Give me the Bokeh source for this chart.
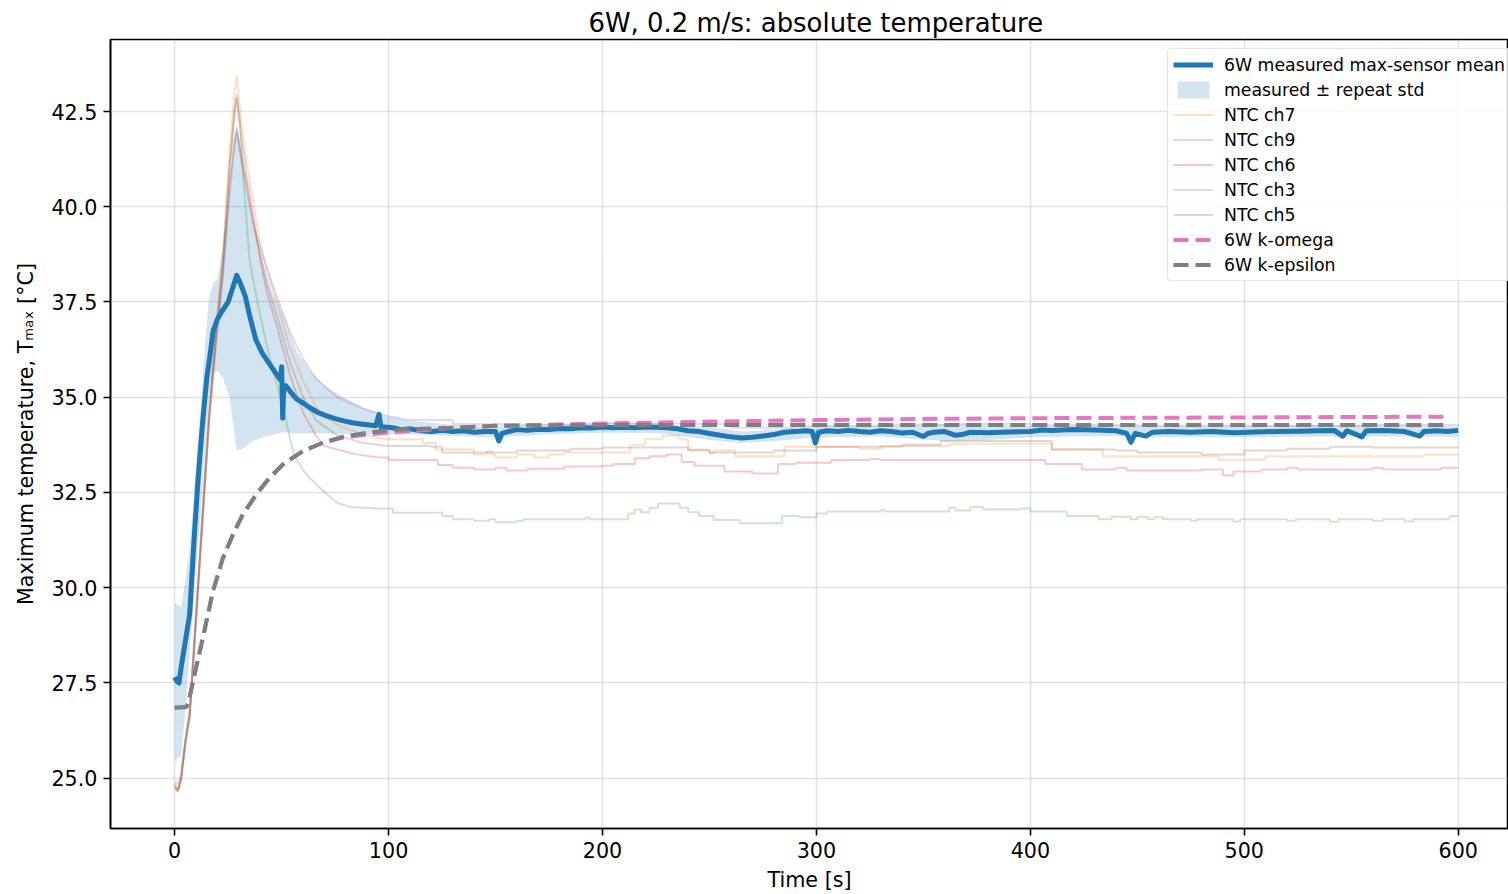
from bokeh.plotting import figure
from bokeh.models import Legend, LegendItem, FixedTicker, PrintfTickFormatter, Range1d
from bokeh.embed import file_html
from bokeh.resources import INLINE

# ---------------- data ----------------
title_text = "6W, 0.2 m/s: absolute temperature"
x_ticks = [0, 100, 200, 300, 400, 500, 600]
y_ticks = [25.0, 27.5, 30.0, 32.5, 35.0, 37.5, 40.0, 42.5]

# measured max-sensor mean
t_mean = [0, 1, 2, 3, 5, 7, 9, 11, 13, 15, 16.5, 18, 20, 22, 25, 27, 29, 31, 33, 35, 38, 41, 44, 47,
          49.5, 50, 50.5, 51, 52, 54, 57, 60, 63, 67, 71, 75, 79, 83, 87, 91, 94, 95.5, 96.5, 98,
          102, 106, 110, 115, 120, 125, 130, 135, 140, 145, 150, 151.5, 153, 156, 160, 165, 170,
          175, 180, 185, 190, 195, 200, 205, 210, 215, 220, 225, 230, 235, 240, 245, 250, 255,
          260, 265, 270, 275, 280, 285, 290, 295, 298, 299.5, 301, 305, 310, 315, 320, 325, 330,
          335, 340, 345, 350, 352, 355, 360, 365, 368, 372, 380, 390, 400, 405, 410, 420, 430,
          440, 445, 447, 449, 454, 457, 465, 475, 485, 495, 505, 515, 525, 535, 542, 546, 548,
          555, 557, 565, 575, 582, 584, 590, 595, 600]
T_mean = [27.65, 27.55, 27.5, 27.9, 28.6, 29.3, 31.2, 32.9, 34.3, 35.5, 36.1, 36.75, 37.05, 37.25,
          37.5, 37.85, 38.2, 37.95, 37.65, 37.15, 36.5, 36.15, 35.9, 35.65, 35.45, 35.8, 34.45,
          35.3, 35.3, 35.15, 34.95, 34.85, 34.73, 34.6, 34.51, 34.44, 34.38, 34.33, 34.3, 34.27,
          34.25, 34.55, 34.2, 34.22, 34.2, 34.15, 34.17, 34.12, 34.1, 34.13, 34.1, 34.12, 34.08,
          34.1, 34.1, 33.85, 34.05, 34.1, 34.15, 34.13, 34.16, 34.15, 34.18, 34.17, 34.2, 34.19,
          34.22, 34.2, 34.21, 34.2, 34.22, 34.21, 34.2, 34.17, 34.12, 34.1, 34.05, 34.0, 33.96,
          33.93, 33.95, 33.98, 34.02, 34.08, 34.1, 34.12, 34.1, 33.8, 34.08, 34.12, 34.1, 34.13,
          34.1, 34.08, 34.12, 34.1, 34.06, 34.08, 33.97, 34.05, 34.08, 34.1, 34.0, 34.02, 34.08,
          34.07, 34.09, 34.1, 34.14, 34.13, 34.15, 34.14, 34.12, 34.05, 33.82, 34.05, 33.98,
          34.08, 34.1, 34.08, 34.1, 34.07, 34.09, 34.1, 34.11, 34.12, 34.13, 33.98, 34.12, 33.96,
          34.12, 34.13, 34.1, 33.98, 34.1, 34.12, 34.1, 34.13]

# measured +/- repeat std band
t_band = [0, 3, 5, 7, 10, 12, 14, 16, 18, 20, 22.6, 25.7, 28, 29, 31, 33.5, 36.6, 41, 46, 50.7,
          57, 63, 71, 79, 88, 99, 110, 130, 150, 175, 200, 225, 250, 265, 280, 300, 330, 360,
          380, 400, 430, 460, 500, 540, 570, 600]
band_upper = [29.6, 29.5, 30.2, 31.0, 33.2, 34.6, 36.2, 37.6, 38.0, 38.1, 39.0, 40.5, 41.8, 42.1,
              41.6, 40.5, 39.6, 38.6, 37.7, 37.2, 36.2, 35.7, 35.25, 35.0, 34.73, 34.5, 34.38,
              34.28, 34.25, 34.3, 34.33, 34.32, 34.22, 34.1, 34.15, 34.25, 34.25, 34.3, 34.28,
              34.25, 34.27, 34.25, 34.25, 34.27, 34.28, 34.24]
band_lower = [25.45, 25.6, 26.8, 28.3, 30.5, 31.8, 33.5, 35.0, 35.6, 35.7, 35.5, 35.0, 34.0, 33.6,
              33.62, 33.72, 33.85, 33.95, 34.02, 34.08, 34.05, 34.05, 34.05, 34.03, 34.03, 34.02,
              34.03, 33.98, 33.95, 34.03, 34.07, 34.06, 33.88, 33.8, 33.85, 33.95, 33.97, 33.85,
              33.88, 33.95, 33.98, 33.95, 33.95, 33.97, 33.97, 33.96]

# NTC channels: transient part (line) and quantised steady part (steps)
t_ch7 = [0, 1.5, 3, 5, 7, 10, 13, 16, 19.5, 22.6, 25.7, 28, 29, 31, 33.5, 36.6, 40, 42.9, 47.6,
         53.8, 60, 66.3, 70, 75.6, 82, 88, 94, 99]
T_ch7 = [24.75, 24.65, 25.0, 26.0, 26.8, 29.4, 32.0, 34.7, 37.0, 38.8, 41.5, 43.0, 43.45, 42.3,
         41.2, 40.16, 39.0, 38.4, 37.53, 36.3, 35.43, 34.73, 34.5, 34.29, 34.15, 34.03, 33.95, 33.9]
ts_ch7 = [99, 116, 122, 140, 146, 148, 150, 160, 168, 175, 182, 213, 220, 228, 236, 240, 250, 252,
          262, 285, 320, 330, 362, 410, 434, 488, 510, 584, 600]
Ts_ch7 = [33.9, 33.8, 33.63, 33.5, 33.58, 33.5, 33.42, 33.5, 33.42, 33.5, 33.55, 33.75, 33.9,
          33.99, 33.9, 33.6, 33.52, 33.6, 33.45, 33.7, 33.65, 33.72, 33.78, 33.63, 33.45, 33.36,
          33.45, 33.5, 33.5]

t_ch9 = [0, 1.5, 3, 5, 7, 10, 13, 16, 19.5, 22.6, 25.7, 28, 29, 30.5, 32, 35, 39, 42.9, 46, 49.1,
         52, 54, 56, 60, 63, 69.4, 74, 76, 82, 95]
T_ch9 = [24.8, 24.7, 25.0, 26.0, 26.7, 29.3, 31.9, 34.5, 36.8, 38.6, 41.0, 42.5, 42.95, 42.2,
         40.8, 38.6, 37.4, 36.4, 35.7, 35.08, 34.4, 33.9, 33.45, 33.1, 32.89, 32.54, 32.32, 32.23,
         32.12, 32.08]
ts_ch9 = [95, 102, 125, 130, 140, 147, 150, 160, 163, 175, 192, 194, 212, 215, 218, 222, 226, 236,
          240, 245, 252, 264, 284, 292, 300, 305, 330, 332, 358, 362, 365, 372, 378, 395, 400, 417,
          432, 438, 447, 450, 455, 458, 462, 475, 478, 495, 498, 520, 524, 540, 544, 560, 565, 575,
          579, 596, 600]
Ts_ch9 = [32.08, 31.97, 31.88, 31.8, 31.76, 31.8, 31.72, 31.76, 31.8, 31.8, 31.84, 31.8, 31.95,
          32.05, 31.98, 32.1, 32.21, 32.1, 31.98, 31.88, 31.78, 31.69, 31.88, 31.85, 31.95, 32.0,
          32.04, 32.0, 32.0, 32.1, 32.03, 32.12, 32.05, 32.08, 32.0, 31.88, 31.8, 31.86, 31.8,
          31.86, 31.8, 31.85, 31.8, 31.76, 31.8, 31.74, 31.8, 31.76, 31.8, 31.73, 31.8, 31.76,
          31.8, 31.74, 31.8, 31.88, 31.88]

t_ch6 = [0, 1.5, 3, 5, 7, 10, 13, 16, 19.5, 22.6, 25.7, 28, 29, 31, 33.5, 36.6, 40, 42.9, 47.6,
         53.8, 60, 66, 70, 76, 85, 95]
T_ch6 = [24.75, 24.65, 24.95, 25.9, 26.6, 29.2, 31.8, 34.4, 36.7, 38.5, 41.1, 42.5, 42.85, 41.9,
         40.8, 39.8, 38.6, 37.8, 36.9, 35.6, 34.6, 34.0, 33.72, 33.63, 33.5, 33.42]
ts_ch6 = [95, 100, 123, 130, 140, 150, 155, 165, 182, 200, 205, 215, 222, 230, 237, 243, 257, 270,
          282, 290, 307, 325, 330, 358, 407, 424, 440, 445, 480, 490, 495, 508, 520, 525, 560, 565,
          592, 600]
Ts_ch6 = [33.42, 33.35, 33.22, 33.15, 33.1, 33.15, 33.08, 33.12, 33.18, 33.2, 33.25, 33.4, 33.45,
          33.5, 33.3, 33.2, 33.05, 33.0, 33.25, 33.28, 33.35, 33.38, 33.35, 33.35, 33.25, 33.1,
          33.15, 33.08, 33.1, 32.95, 33.05, 33.1, 33.15, 33.1, 33.15, 33.1, 33.15, 33.15]

t_ch3 = [0, 1.5, 3, 5, 7, 10, 13, 16, 19.5, 22.6, 25.7, 28, 29, 31, 33, 37, 43, 48, 54, 60, 66,
         76, 88, 100, 110]
T_ch3 = [24.9, 24.85, 25.1, 26.0, 26.7, 29.2, 31.8, 34.3, 36.5, 38.2, 40.3, 41.7, 42.1, 41.3,
         40.8, 39.5, 38.4, 37.6, 36.7, 36.0, 35.5, 35.0, 34.7, 34.5, 34.4]
ts_ch3 = [110, 130, 160, 200, 240, 260, 290, 330, 360, 400, 450, 500, 560, 600]
Ts_ch3 = [34.4, 34.3, 34.28, 34.32, 34.3, 34.2, 34.25, 34.28, 34.3, 34.27, 34.26, 34.25, 34.27,
          34.26]

t_ch5 = [0, 1.5, 3, 5, 7, 10, 13, 16, 19.5, 22.6, 25.7, 28, 29, 31, 33.5, 36.6, 43, 48, 54, 60,
         66, 76, 88, 100]
T_ch5 = [24.85, 24.7, 25.0, 25.9, 26.6, 29.1, 31.7, 34.3, 36.6, 38.3, 40.6, 41.7, 41.95, 41.3,
         40.5, 39.6, 38.0, 37.1, 35.9, 35.0, 34.4, 34.0, 33.8, 33.72]
ts_ch5 = [100, 120, 125, 160, 185, 200, 240, 250, 280, 300, 340, 358, 405, 410, 440, 450, 480, 500,
          520, 540, 560, 600]
Ts_ch5 = [33.72, 33.7, 33.55, 33.6, 33.65, 33.68, 33.62, 33.55, 33.6, 33.7, 33.75, 33.85, 33.85,
          33.63, 33.6, 33.55, 33.5, 33.6, 33.65, 33.7, 33.68, 33.7]

# simulations
t_sim = [0, 5.5, 6.5, 8.6, 13.2, 17.9, 22.6, 27.3, 31.9, 38.2, 44.4, 50.7, 60, 69.4, 78.7, 88,
         97.4, 108, 130, 150, 200, 250, 300, 350, 400, 450, 500, 550, 595]
T_komega = [26.85, 26.87, 27.0, 27.55, 28.69, 29.91, 30.79, 31.4, 31.93, 32.45, 32.89, 33.24,
            33.59, 33.81, 33.94, 34.01, 34.06, 34.1, 34.2, 34.25, 34.31, 34.36, 34.4, 34.43,
            34.45, 34.46, 34.47, 34.48, 34.49]
T_keps = [26.85, 26.87, 27.0, 27.55, 28.69, 29.91, 30.79, 31.4, 31.93, 32.45, 32.89, 33.24,
          33.59, 33.81, 33.96, 34.05, 34.12, 34.16, 34.2, 34.25, 34.27, 34.27, 34.27, 34.27,
          34.27, 34.27, 34.27, 34.27, 34.27]

# ---------------- figure ----------------
FONT = "DejaVu Sans"
p = figure(width=1508, height=894, output_backend="svg", toolbar_location=None,
           x_range=Range1d(-30.0, 623.5), y_range=Range1d(23.68, 44.39),
           min_border_left=110, min_border_right=0, min_border_top=39, min_border_bottom=66,
           background_fill_color="white", border_fill_color="white")

p.title.text = title_text
p.title.text_font = FONT
p.title.text_font_size = "25.9px"
p.title.text_font_style = "normal"
p.title.text_color = "black"
p.title.align = "left"
p.title.vertical_align = "top"
p.title.offset = 478
p.title.standoff = 0

for ax in (p.xaxis, p.yaxis):
    ax.major_label_text_font = FONT
    ax.major_label_text_font_size = "20.7px"
    ax.major_label_text_color = "black"
    ax.axis_label_text_font = FONT
    ax.axis_label_text_font_size = "20.7px"
    ax.axis_label_text_font_style = "normal"
    ax.axis_label_text_color = "black"
    ax.axis_line_width = 1.6
    ax.axis_line_color = "black"
    ax.major_tick_line_width = 1.6
    ax.major_tick_line_color = "black"
    ax.major_tick_out = 7
    ax.major_tick_in = 0
    ax.minor_tick_out = 0
    ax.minor_tick_in = 0

p.xaxis.major_label_standoff = 6
p.xaxis.axis_label_standoff = 7
p.yaxis.major_label_standoff = 6
p.yaxis.axis_label_standoff = 10

p.xaxis.ticker = FixedTicker(ticks=x_ticks)
p.yaxis.ticker = FixedTicker(ticks=y_ticks)
p.yaxis.formatter = PrintfTickFormatter(format="%.1f")
p.xaxis.axis_label = "Time [s]"
p.yaxis.axis_label = "Maximum temperature, Tₘₐₓ [°C]"

p.grid.grid_line_color = "#b0b0b0"
p.grid.grid_line_alpha = 0.35
p.grid.grid_line_width = 1.6
p.outline_line_color = "black"
p.outline_line_width = 1.6
p.outline_line_alpha = 1.0

# ---------------- glyphs ----------------
r_band = p.varea(x=t_band, y1=band_lower, y2=band_upper, fill_color="#1f77b4", fill_alpha=0.2)

ntc = [("NTC ch7", "#ff7f0e", t_ch7, T_ch7, ts_ch7, Ts_ch7),
       ("NTC ch9", "#2ca02c", t_ch9, T_ch9, ts_ch9, Ts_ch9),
       ("NTC ch6", "#d62728", t_ch6, T_ch6, ts_ch6, Ts_ch6),
       ("NTC ch3", "#9467bd", t_ch3, T_ch3, ts_ch3, Ts_ch3),
       ("NTC ch5", "#8c564b", t_ch5, T_ch5, ts_ch5, Ts_ch5)]
ntc_items = []
for label, col, te, Te, ts, Ts in ntc:
    r = p.line(te, Te, line_color=col, line_alpha=0.25, line_width=2)
    p.step(ts, Ts, mode="after", line_color=col, line_alpha=0.25, line_width=2)
    ntc_items.append(LegendItem(label=label, renderers=[r]))

r_mean = p.line(t_mean, T_mean, line_color="#1f77b4", line_width=5, line_join="round")
r_kom = p.line(t_sim, T_komega, line_color="#e377c2", line_width=4, line_dash="15 7")
r_keps = p.line(t_sim, T_keps, line_color="#7f7f7f", line_width=4, line_dash="15 7")

items = [LegendItem(label="6W measured max-sensor mean", renderers=[r_mean]),
         LegendItem(label="measured ± repeat std", renderers=[r_band])] + ntc_items + [
         LegendItem(label="6W k-omega", renderers=[r_kom]),
         LegendItem(label="6W k-epsilon", renderers=[r_keps])]

legend = Legend(items=items, location=(1057, 547))
legend.label_text_font = FONT
legend.label_text_font_size = "17.3px"
legend.label_text_color = "black"
legend.glyph_width = 40
legend.glyph_height = 21
legend.label_height = 21
legend.label_standoff = 11
legend.spacing = 4
legend.padding = 5
legend.margin = 0
legend.border_line_color = "#cccccc"
legend.border_line_width = 1.6
legend.border_radius = 4
legend.background_fill_color = "white"
legend.background_fill_alpha = 0.8
p.add_layout(legend)

open("out.html", "w").write(file_html(p, INLINE))
